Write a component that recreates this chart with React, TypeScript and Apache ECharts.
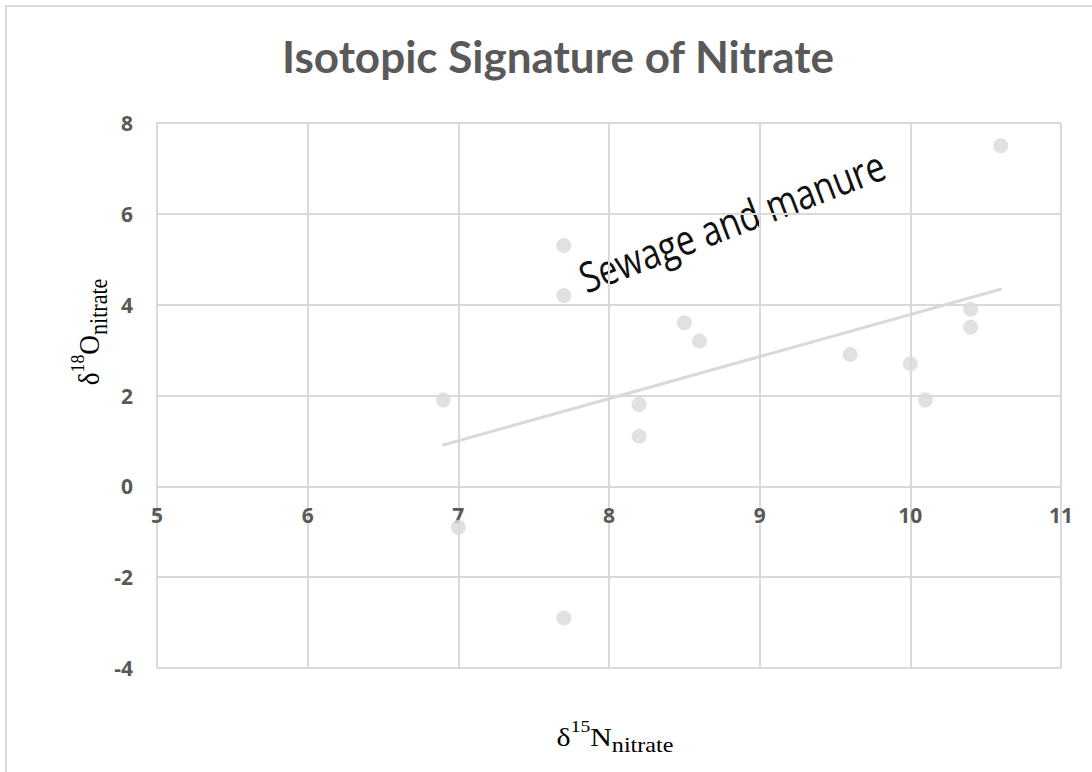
import React, { useEffect, useRef } from "react";
import * as echarts from "echarts";

// δ15N (x) and δ18O (y) of nitrate samples
const nitrogen15 = [6.9, 7.0, 7.7, 7.7, 7.7, 8.2, 8.2, 8.5, 8.6, 9.6, 10.0, 10.1, 10.4, 10.4, 10.6];
const oxygen18 = [1.9, -0.9, 5.3, 4.2, -2.9, 1.8, 1.1, 3.6, 3.2, 2.9, 2.7, 1.9, 3.9, 3.5, 7.5];

const xTicks = { min: 5, max: 11, interval: 1 };
const yTicks = { min: -4, max: 8, interval: 2 };

const titleText = "Isotopic Signature of Nitrate";
const annotationText = "Sewage and manure";

// least-squares linear trendline through the samples
function linearFit(xs: number[], ys: number[]) {
  const n = xs.length;
  const mx = xs.reduce((a, b) => a + b, 0) / n;
  const my = ys.reduce((a, b) => a + b, 0) / n;
  let sxy = 0;
  let sxx = 0;
  for (let i = 0; i < n; i++) {
    sxy += (xs[i] - mx) * (ys[i] - my);
    sxx += (xs[i] - mx) * (xs[i] - mx);
  }
  const slope = sxy / sxx;
  return { slope, intercept: my - slope * mx };
}

const GREY = "#d9d9d9";
const LABEL = "#595959";
const SERIF = "'Liberation Serif', 'Times New Roman', serif";
const WIDTH = 1092;
const HEIGHT = 772;
const GRID = { left: 157, right: 31, top: 123, bottom: 104 };

const isotopeRich = {
  d: { fontFamily: SERIF, fontSize: 26, lineHeight: 38, fill: "#000", verticalAlign: "middle" },
  sup: { fontFamily: SERIF, fontSize: 17, lineHeight: 17, fill: "#000", verticalAlign: "top" },
  sub: { fontFamily: SERIF, fontSize: 21, lineHeight: 21, fill: "#000", verticalAlign: "bottom" },
};

const tickLabel = {
  color: LABEL,
  fontWeight: "bold" as const,
  fontSize: 21,
  fontFamily: "'Open Sans', Lato, sans-serif",
};

export default function App() {
  const ref = useRef<HTMLDivElement>(null);

  useEffect(() => {
    if (!ref.current) return;
    const chart = echarts.init(ref.current, null, { renderer: "svg" });

    const points = nitrogen15.map((x, i) => [x, oxygen18[i]]);
    const fit = linearFit(nitrogen15, oxygen18);
    const xLo = Math.min(...nitrogen15);
    const xHi = Math.max(...nitrogen15);
    const trend = [
      [xLo, fit.slope * xLo + fit.intercept],
      [xHi, fit.slope * xHi + fit.intercept],
    ];

    // the horizontal axis (line + labels) sits on y = 0 rather than the plot bottom
    const plotHeight = HEIGHT - GRID.top - GRID.bottom;
    const zeroLift = (plotHeight * (0 - yTicks.min)) / (yTicks.max - yTicks.min);

    chart.setOption({
      animation: false,
      backgroundColor: "#fff",
      title: {
        text: titleText,
        left: 553,
        textAlign: "center",
        top: 29,
        textStyle: {
          fontFamily: "Lato, 'Open Sans', sans-serif",
          fontWeight: "bold",
          fontSize: 44,
          color: LABEL,
        },
      },
      grid: { ...GRID, containLabel: false },
      xAxis: {
        type: "value",
        min: xTicks.min,
        max: xTicks.max,
        interval: xTicks.interval,
        offset: -zeroLift,
        axisLine: { show: true, onZero: false, lineStyle: { color: GREY, width: 2 } },
        axisTick: { show: false },
        axisLabel: { ...tickLabel, margin: 18 },
        splitLine: { show: true, lineStyle: { color: GREY, width: 2 } },
      },
      yAxis: {
        type: "value",
        min: yTicks.min,
        max: yTicks.max,
        interval: yTicks.interval,
        axisLine: { show: true, onZero: false, lineStyle: { color: GREY, width: 2 } },
        axisTick: { show: false },
        axisLabel: { ...tickLabel, margin: 24 },
        splitLine: { show: true, lineStyle: { color: GREY, width: 2 } },
      },
      series: [
        {
          type: "line",
          data: trend,
          showSymbol: false,
          silent: true,
          lineStyle: { color: GREY, width: 3, cap: "round" },
          z: 3,
        },
        {
          type: "scatter",
          data: points,
          symbol: "circle",
          symbolSize: 15,
          itemStyle: { color: GREY },
          z: 4,
        },
      ],
      graphic: [
        {
          type: "rect",
          silent: true,
          shape: { x: 6, y: 6, width: 1200, height: 1000 },
          style: { fill: "none", stroke: GREY, lineWidth: 2 },
        },
        {
          type: "text",
          x: 615,
          y: 737,
          scaleX: 1.15,
          style: {
            text: "{d|δ}{sup|15}{d|N}{sub|nitrate}",
            rich: isotopeRich,
            align: "center",
            verticalAlign: "middle",
          },
        },
        {
          type: "text",
          x: 89,
          y: 332,
          rotation: Math.PI / 2,
          scaleX: 1.05,
          scaleY: 1.15,
          style: {
            text: "{d|δ}{sup|18}{d|O}{sub|nitrate}",
            rich: isotopeRich,
            align: "center",
            verticalAlign: "middle",
          },
        },
        {
          type: "text",
          x: 588,
          y: 298,
          rotation: (21 * Math.PI) / 180,
          scaleX: 0.81,
          style: {
            text: annotationText,
            fontFamily: "'Open Sans', sans-serif",
            fontSize: 42,
            fill: "#111",
            align: "left",
            verticalAlign: "bottom",
          },
        },
      ],
    });

    return () => chart.dispose();
  }, []);

  return (
    <div
      ref={ref}
      style={{ position: "absolute", left: 0, top: 0, width: WIDTH, height: HEIGHT }}
    />
  );
}
